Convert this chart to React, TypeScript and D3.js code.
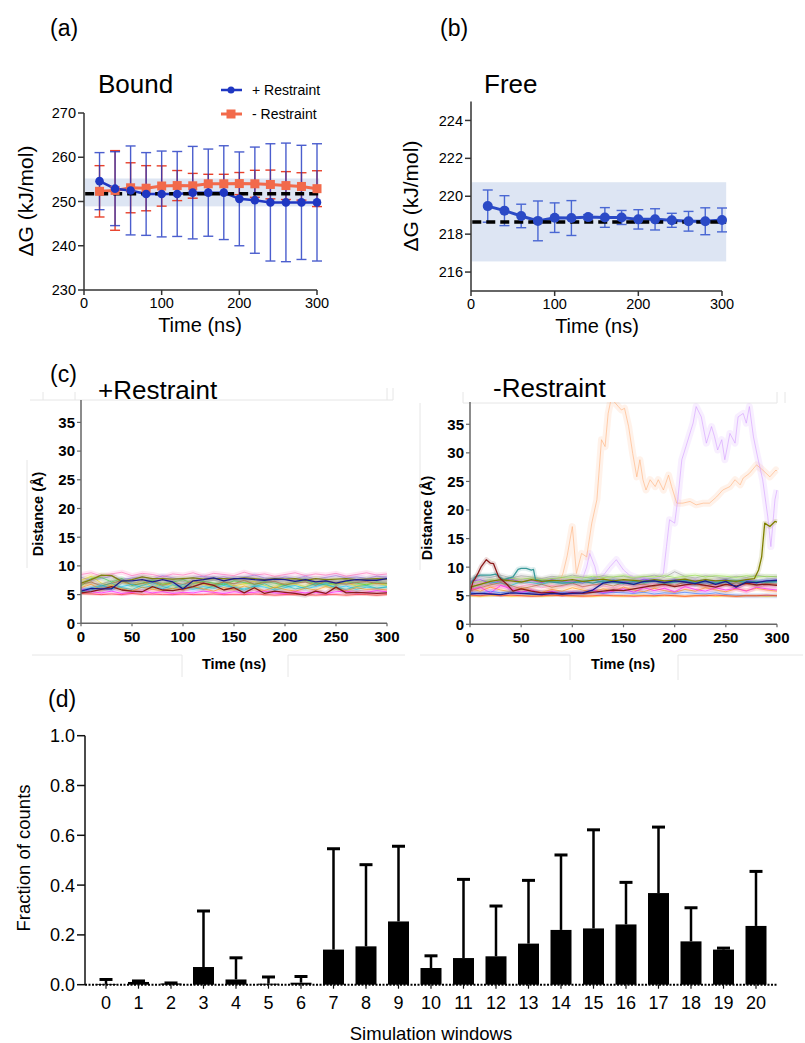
import React from 'react';
import * as d3 from 'd3';

const FONT = "'Liberation Sans', Arial, Helvetica, sans-serif";

// ---------- (a) / (b) data ----------
const timeNs = [20, 40, 60, 80, 100, 120, 140, 160, 180, 200, 220, 240, 260, 280, 300];
const boundPlusMean = [254.6, 252.9, 252.5, 251.7, 251.7, 251.7, 252.0, 252.0, 252.0, 250.6, 250.3, 249.8, 249.8, 249.8, 249.8];
const boundPlusErr = [6.45, 8.35, 10.05, 9.35, 9.7, 9.6, 10.45, 9.85, 10.6, 10.6, 12.0, 13.25, 13.4, 12.9, 13.25];
const boundMinusMean = [252.3, 252.5, 253.1, 253.0, 253.5, 253.6, 253.55, 254.0, 254.0, 254.05, 254.0, 253.85, 253.6, 253.4, 252.9];
const boundMinusErr = [5.8, 9.0, 5.65, 5.1, 4.55, 3.4, 2.8, 2.15, 2.15, 2.5, 3.05, 3.25, 3.15, 3.1, 4.05];
const boundRef = 251.75;
const boundBand = [248.9, 255.2];
const boundYTicks = [230, 240, 250, 260, 270];
const timeTicksAB = [0, 100, 200, 300];

const freeMean = [219.48, 219.24, 218.96, 218.7, 218.87, 218.85, 218.9, 218.88, 218.88, 218.78, 218.78, 218.73, 218.68, 218.68, 218.75];
const freeErr = [0.85, 0.79, 0.62, 1.05, 0.78, 0.92, 0.13, 0.52, 0.37, 0.51, 0.56, 0.37, 0.52, 0.71, 0.63];
const freeRef = 218.64;
const freeBand = [216.56, 220.74];
const freeYTicks = [216, 218, 220, 222, 224];

// ---------- (c) data ----------
const traceTimes = [0, 10, 20, 30, 40, 50, 60, 70, 80, 90, 100, 110, 120, 130, 140, 150, 160, 170, 180, 190, 200, 210, 220, 230, 240, 250, 260, 270, 280, 290, 300];
const distYTicks = [0, 5, 10, 15, 20, 25, 30, 35];
const distXTicks = [0, 50, 100, 150, 200, 250, 300];

// +Restraint traces
const plusNavy = [5.6, 6.1, 6.0, 6.0, 7.4, 7.4, 7.6, 7.2, 7.6, 7.2, 6.0, 7.4, 7.6, 7.9, 7.4, 7.8, 7.8, 7.6, 7.5, 7.7, 7.6, 7.3, 7.6, 7.2, 7.4, 7.0, 7.4, 7.6, 7.5, 7.5, 7.8];
const plusDarkRed = [5.3, 5.5, 5.9, 6.4, 5.8, 5.6, 5.5, 6.4, 5.8, 5.7, 6.0, 6.4, 7.0, 6.6, 5.8, 6.2, 5.3, 6.2, 5.2, 5.6, 5.4, 5.2, 4.9, 5.6, 5.2, 6.3, 5.3, 5.4, 5.3, 5.2, 5.3];
const plusOlive = [7.0, 7.6, 8.4, 8.3, 7.3, 7.6, 8.1, 7.8, 7.8, 7.7, 7.8, 7.9, 7.7, 7.8, 7.8, 7.7, 7.9, 7.8, 7.6, 7.8, 7.7, 7.8, 7.5, 7.8, 7.6, 7.7, 7.8, 7.6, 7.7, 7.8, 7.7];
const plusRed = [5.2, 5.1, 5.0, 5.1, 5.0, 5.2, 5.0, 5.1, 5.0, 5.0, 5.1, 5.0, 5.0, 5.1, 5.0, 5.0, 5.0, 5.1, 5.0, 4.9, 5.0, 5.0, 5.0, 4.9, 5.0, 5.0, 4.9, 5.0, 5.0, 4.9, 5.0];
const plusMagenta = [6.0, 5.5, 5.3, 5.6, 5.2, 5.4, 5.6, 5.3, 5.5, 5.2, 5.4, 5.3, 5.6, 5.4, 5.2, 5.5, 5.3, 5.4, 5.6, 5.3, 5.2, 5.5, 5.3, 5.4, 5.2, 5.5, 5.6, 5.3, 5.4, 5.7, 5.5];
const plusYellow = [7.5, 8.2, 7.0, 6.5, 7.2, 6.8, 7.5, 6.2, 7.0, 6.6, 6.3, 7.1, 6.8, 6.4, 7.2, 6.5, 6.9, 7.3, 6.6, 6.2, 7.0, 6.8, 6.4, 7.2, 6.6, 6.9, 7.1, 6.5, 6.8, 7.0, 6.6];
const plusGreen = [6.5, 7.8, 8.0, 7.2, 7.8, 6.6, 7.0, 7.5, 6.8, 7.2, 7.6, 6.9, 7.3, 7.0, 6.7, 7.4, 7.1, 6.8, 7.3, 7.0, 6.6, 7.2, 7.5, 6.9, 7.1, 6.8, 7.3, 7.0, 6.7, 7.2, 6.9];
const plusSky = [5.8, 6.2, 6.6, 6.0, 6.4, 6.8, 6.2, 6.5, 6.0, 6.7, 6.3, 5.9, 6.4, 6.1, 6.6, 6.2, 6.0, 6.5, 6.3, 5.8, 6.2, 6.6, 6.0, 6.4, 6.9, 6.2, 6.5, 5.9, 6.3, 6.1, 6.4];
const plusOrange = [6.2, 6.8, 5.8, 6.4, 6.0, 5.6, 6.3, 5.9, 5.7, 6.1, 5.8, 6.4, 6.0, 5.6, 6.2, 5.8, 6.5, 6.0, 5.7, 6.3, 5.9, 5.6, 6.1, 5.8, 6.4, 6.0, 5.7, 6.2, 5.9, 6.0, 5.8];
const plusPurple = [8.0, 7.5, 7.8, 8.2, 7.6, 7.9, 8.1, 7.7, 8.3, 7.9, 7.6, 8.0, 8.2, 7.8, 8.1, 7.7, 8.0, 8.4, 7.9, 7.6, 8.1, 7.8, 8.2, 7.7, 8.0, 8.3, 7.9, 8.1, 7.8, 8.2, 8.0];
const plusTeal = [5.5, 5.8, 6.5, 7.0, 6.2, 5.9, 6.6, 7.1, 6.4, 6.0, 6.8, 6.3, 5.9, 6.5, 7.0, 6.2, 5.8, 6.4, 6.9, 6.1, 6.6, 6.0, 6.3, 6.9, 6.7, 6.2, 5.9, 6.4, 6.6, 6.1, 6.3];
const plusPink = [8.5, 8.8, 8.2, 8.6, 8.9, 8.3, 8.7, 8.5, 8.1, 8.6, 8.4, 8.8, 8.2, 8.7, 8.5, 8.3, 8.9, 8.4, 8.6, 8.2, 8.5, 8.8, 8.3, 8.6, 8.4, 8.7, 8.2, 8.5, 8.8, 8.4, 8.6];
const plusGray = [7.2, 7.0, 6.8, 7.5, 7.1, 6.9, 7.4, 7.2, 7.0, 7.6, 7.3, 6.9, 7.1, 7.5, 7.2, 6.8, 7.3, 7.0, 7.4, 7.1, 6.9, 7.3, 7.6, 7.0, 7.2, 7.4, 6.9, 7.1, 7.3, 7.0, 7.2];
const plusBrown = [6.8, 7.2, 6.5, 7.0, 7.4, 6.7, 6.9, 7.3, 6.6, 7.1, 6.8, 7.4, 7.0, 6.7, 7.2, 6.9, 7.5, 6.8, 7.1, 7.3, 6.7, 7.0, 7.2, 6.6, 7.4, 7.0, 6.8, 7.1, 7.3, 6.9, 7.0];

// -Restraint traces (faint band)
const minusRed = [5.1, 5.0, 5.2, 5.0, 5.1, 5.0, 4.9, 5.0, 5.1, 5.0, 5.0, 4.9, 5.0, 5.1, 5.0, 5.0, 4.9, 5.0, 5.0, 5.1, 5.0, 4.9, 5.0, 5.0, 5.1, 5.0, 4.9, 5.0, 5.0, 5.1, 5.0];
const minusYellow = [5.0, 4.9, 5.0, 5.1, 4.9, 5.0, 5.0, 4.9, 5.0, 5.1, 4.9, 5.0, 4.9, 5.0, 5.0, 4.9, 5.1, 5.0, 4.9, 5.0, 5.0, 4.9, 5.0, 5.1, 4.9, 5.0, 4.9, 5.0, 5.0, 4.9, 5.0];
const minusMagenta = [6.0, 6.5, 5.5, 6.8, 6.2, 5.6, 6.0, 5.4, 5.8, 5.3, 5.6, 5.4, 6.0, 5.5, 5.8, 6.2, 5.6, 6.4, 5.9, 6.3, 5.7, 6.6, 6.1, 5.8, 6.4, 6.0, 6.3, 5.8, 6.5, 6.2, 6.0];
const minusBlue = [5.6, 5.4, 5.8, 5.5, 5.7, 5.4, 5.6, 5.5, 5.3, 5.6, 5.4, 5.5, 5.7, 5.4, 5.6, 5.5, 5.4, 5.6, 5.3, 5.5, 5.4, 5.6, 5.4, 5.3, 5.5, 5.2, 5.1, 5.0, 5.0, 5.0, 5.0];
const minusLime = [7.2, 7.5, 7.8, 7.6, 8.0, 7.9, 8.1, 7.8, 8.0, 8.2, 8.3, 8.1, 8.4, 8.2, 8.3, 8.5, 8.2, 8.4, 8.3, 8.5, 8.2, 8.4, 8.6, 8.3, 8.5, 8.4, 8.2, 8.5, 8.3, 8.4, 8.3];
const minusCyan = [6.5, 7.0, 7.4, 7.2, 6.8, 7.5, 7.3, 7.0, 7.6, 7.4, 7.2, 7.5, 7.8, 7.3, 7.6, 7.4, 7.1, 7.5, 7.7, 7.2, 7.6, 7.4, 7.0, 7.5, 7.3, 7.7, 7.4, 7.6, 7.2, 7.5, 7.4];
const minusOrange = [6.2, 5.8, 6.5, 6.0, 5.7, 6.3, 5.9, 5.6, 6.1, 5.8, 6.4, 6.0, 5.7, 6.2, 5.8, 6.5, 6.0, 5.7, 6.3, 5.9, 5.6, 6.1, 5.8, 6.4, 6.0, 5.7, 6.2, 5.9, 6.3, 6.0, 5.8];
const minusPink = [6.8, 7.2, 6.5, 6.9, 6.3, 6.7, 7.0, 6.4, 6.8, 6.6, 7.1, 6.5, 6.9, 6.7, 6.4, 7.0, 6.6, 6.8, 7.2, 6.5, 6.9, 6.7, 7.1, 6.6, 6.8, 7.0, 6.5, 6.9, 7.3, 6.7, 7.0];
const minusGray = [8.0, 8.4, 8.2, 8.6, 8.1, 8.5, 8.3, 8.0, 8.4, 8.2, 8.6, 8.3, 8.1, 8.5, 8.2, 8.4, 8.0, 8.3, 8.6, 8.2, 9.2, 8.4, 8.1, 8.5, 8.3, 8.0, 8.4, 8.2, 8.6, 8.3, 8.4];
const minusBrown = [5.8, 6.4, 6.9, 7.3, 6.8, 6.2, 6.6, 7.0, 6.5, 6.8, 7.2, 6.6, 6.9, 7.1, 6.7, 7.3, 6.9, 7.0, 6.6, 7.2, 6.8, 7.4, 7.0, 6.7, 7.1, 6.9, 7.3, 7.0, 6.8, 7.2, 7.0];
const minusViolet = [7.5, 7.8, 7.2, 7.6, 7.9, 7.4, 7.7, 7.3, 7.8, 7.5, 7.6, 7.2, 7.8, 7.4, 7.7, 7.5, 7.3, 7.9, 7.6, 7.4, 7.8, 7.5, 7.7, 7.3, 7.6, 7.8, 7.4, 7.7, 7.5, 7.6, 7.8];
const minusNavy = [5.3, 5.4, 5.3, 5.2, 5.5, 5.4, 5.3, 5.2, 5.4, 5.3, 5.4, 5.5, 6.0, 7.2, 7.5, 7.3, 7.0, 7.5, 7.6, 7.3, 7.6, 7.4, 7.1, 7.6, 7.0, 7.5, 6.5, 7.4, 7.3, 7.6, 7.7];

// -Restraint prominent traces, [time ns, distance Å]
const minusDarkRedPts: [number, number][] = [[0, 5.5], [3, 7.5], [5, 8.0], [8, 9.0], [11, 10.1], [16, 11.3], [20, 10.7], [23, 10.6], [28, 8.3], [31, 7.8], [36, 7.0], [42, 5.8], [50, 6.2], [60, 5.8], [70, 5.5], [80, 5.6], [90, 5.3], [100, 5.5], [110, 5.4], [120, 5.6], [130, 5.8], [140, 6.0], [150, 5.9], [160, 6.2], [170, 6.5], [180, 6.8], [190, 7.0], [200, 6.6], [210, 6.9], [220, 7.1], [230, 6.8], [240, 6.5], [250, 7.0], [260, 6.7], [270, 7.2], [280, 6.9], [290, 7.0], [300, 6.8]];
const minusTealPts: [number, number][] = [[0, 7.0], [5, 8.3], [10, 8.6], [20, 8.6], [25, 8.8], [33, 7.8], [42, 8.3], [47, 9.6], [50, 9.8], [55, 9.8], [60, 9.5], [62, 9.6], [64, 7.8], [70, 7.6], [80, 7.4], [90, 7.2], [100, 7.3], [110, 7.5], [120, 7.2], [130, 7.6], [140, 7.4], [150, 7.1], [160, 7.5], [170, 7.3], [180, 7.6], [190, 7.2], [200, 7.4], [210, 7.7], [220, 7.3], [230, 7.5], [240, 7.2], [250, 7.4], [260, 7.6], [270, 7.3], [280, 7.5], [290, 7.4], [300, 7.5]];
const minusOlivePts: [number, number][] = [[0, 6.5], [10, 7.0], [20, 7.5], [30, 7.8], [40, 7.6], [50, 7.4], [60, 7.8], [70, 7.5], [80, 7.7], [90, 7.6], [100, 7.8], [110, 7.5], [120, 7.7], [130, 7.9], [140, 7.6], [150, 7.8], [160, 7.7], [170, 7.5], [180, 7.8], [190, 7.6], [200, 7.7], [210, 7.9], [220, 7.5], [230, 7.8], [240, 7.6], [250, 7.7], [260, 7.5], [270, 7.8], [278, 8.0], [282, 9.5], [285, 11.8], [288, 17.7], [293, 17.1], [298, 18.0], [300, 17.9]];
const minusPeachPts: [number, number][] = [[0, 6.5], [10, 7.2], [20, 7.5], [30, 7.0], [40, 7.4], [50, 7.8], [60, 7.3], [70, 7.6], [80, 7.2], [88, 7.6], [91, 9.0], [95, 12.0], [100, 17.1], [104, 8.9], [109, 12.4], [114, 11.8], [119, 17.7], [124, 21.8], [128.5, 32.3], [132, 31.1], [135, 36.9], [138, 39.5], [145, 38.1], [148, 37.5], [151, 37.8], [155, 34.6], [159, 29.9], [163, 25.8], [166, 28.8], [169, 25.3], [172, 23.5], [176, 25.3], [181, 24.1], [184, 25.3], [189, 23.5], [194, 26.1], [197, 24.1], [202, 21.2], [208, 21.2], [215, 21.5], [221, 20.9], [228, 21.2], [234, 21.2], [241, 22.3], [247, 23.5], [254, 24.1], [259, 25.3], [264, 24.4], [267, 25.6], [273, 26.4], [280, 27.9], [286, 27.0], [293, 25.8], [299, 27.0], [300, 26.8]];
const minusLilacPts: [number, number][] = [[0, 7.0], [10, 7.4], [20, 7.8], [30, 7.2], [40, 7.4], [50, 7.9], [60, 7.5], [70, 7.6], [80, 7.8], [90, 7.4], [100, 7.8], [110, 8.0], [114, 10.0], [117, 12.4], [122, 10.1], [125, 7.8], [130, 8.5], [137, 10.1], [143, 11.3], [150, 9.5], [156, 8.6], [165, 8.0], [175, 7.8], [185, 8.2], [189, 8.9], [192, 13.6], [195, 18.3], [200, 17.7], [203, 21.8], [207, 28.8], [211, 31.1], [218, 35.2], [221, 38.1], [226, 36.3], [231, 31.7], [236, 34.6], [239, 32.8], [242, 30.5], [246, 32.3], [249, 28.8], [254, 33.4], [259, 31.7], [262, 36.3], [267, 36.9], [270, 35.2], [273, 38.1], [277, 32.8], [281, 29.3], [286, 25.3], [291, 18.8], [294, 13.6], [298, 21.8], [300, 23.5]];

// ---------- (d) data ----------
const windows = ['0', '1', '2', '3', '4', '5', '6', '7', '8', '9', '10', '11', '12', '13', '14', '15', '16', '17', '18', '19', '20'];
const fraction = [0.003, 0.011, 0.005, 0.071, 0.021, 0.004, 0.008, 0.141, 0.154, 0.254, 0.067, 0.107, 0.114, 0.165, 0.220, 0.226, 0.242, 0.368, 0.174, 0.141, 0.236];
const fractionErr = [0.018, 0.004, 0.002, 0.225, 0.087, 0.027, 0.025, 0.405, 0.328, 0.302, 0.049, 0.316, 0.202, 0.254, 0.301, 0.396, 0.169, 0.265, 0.135, 0.006, 0.219];
const fractionTicks = [0, 0.2, 0.4, 0.6, 0.8, 1.0];

type Trace = { pts: [number, number][]; color: string; strong?: boolean; halo?: number };

const fromValues = (vals: number[]): [number, number][] => vals.map((v, i) => [traceTimes[i], v]);

function ErrBar({ x, yTop, yBot, cap, color, w, opacity = 1 }: any) {
  return (
    <g stroke={color} strokeWidth={w} opacity={opacity}>
      <line x1={x} x2={x} y1={yTop} y2={yBot} />
      <line x1={x - cap / 2} x2={x + cap / 2} y1={yTop} y2={yTop} />
      <line x1={x - cap / 2} x2={x + cap / 2} y1={yBot} y2={yBot} />
    </g>
  );
}

function PanelA() {
  const x = d3.scaleLinear().domain([0, 300]).range([84, 317]);
  const y = d3.scaleLinear().domain([230, 270]).range([290, 113]);
  const line = d3.line<number>().x((_, i) => x(timeNs[i])).y((d) => y(d));
  const blue = '#1f37c2';
  const red = '#f26a4b';
  return (
    <g fontFamily={FONT}>
      <text x={50} y={36} fontSize={23}>(a)</text>
      <text x={98} y={93} fontSize={26}>Bound</text>
      <rect x={x(1)} y={y(boundBand[1])} width={x(303) - x(1)} height={y(boundBand[0]) - y(boundBand[1])} fill="#dde5f3" />
      {timeNs.map((t, i) => (
        <ErrBar key={'re' + i} x={x(t)} yTop={y(boundMinusMean[i] + boundMinusErr[i])} yBot={y(boundMinusMean[i] - boundMinusErr[i])} cap={10} color="#e8402a" w={1.4} />
      ))}
      <path d={line(boundMinusMean) || ''} fill="none" stroke={red} strokeWidth={3} />
      {timeNs.map((t, i) => (
        <ErrBar key={'be' + i} x={x(t)} yTop={y(boundPlusMean[i] + boundPlusErr[i])} yBot={y(boundPlusMean[i] - boundPlusErr[i])} cap={10} color={blue} w={1.4} opacity={0.8} />
      ))}
      <path d={line(boundPlusMean) || ''} fill="none" stroke={blue} strokeWidth={2.5} />
      <line x1={x(1.5)} x2={x(303)} y1={y(boundRef)} y2={y(boundRef)} stroke="#000" strokeWidth={3.5} strokeDasharray="9,5" />
      {timeNs.map((t, i) => (
        <rect key={'rs' + i} x={x(t) - 4.5} y={y(boundMinusMean[i]) - 4.5} width={9} height={9} fill={red} />
      ))}
      {timeNs.map((t, i) => (
        <circle key={'bc' + i} cx={x(t)} cy={y(boundPlusMean[i])} r={4.3} fill={blue} />
      ))}
      <line x1={84} x2={84} y1={113} y2={290} stroke="#333" strokeWidth={1.5} />
      <line x1={84} x2={317} y1={290} y2={290} stroke="#333" strokeWidth={1.5} />
      {boundYTicks.map((v) => (
        <g key={v}>
          <line x1={78} x2={84} y1={y(v)} y2={y(v)} stroke="#333" strokeWidth={1.5} />
          <text x={76} y={y(v)} dy="0.35em" textAnchor="end" fontSize={14.5}>{v}</text>
        </g>
      ))}
      {timeTicksAB.map((v) => (
        <g key={v}>
          <line x1={x(v)} x2={x(v)} y1={290} y2={295} stroke="#333" strokeWidth={1.5} />
          <text x={x(v)} y={308} textAnchor="middle" fontSize={14.5}>{v}</text>
        </g>
      ))}
      <text transform="translate(33,201) rotate(-90)" textAnchor="middle" fontSize={21}>ΔG (kJ/mol)</text>
      <text x={200} y={332} textAnchor="middle" fontSize={20}>Time (ns)</text>
      <line x1={221} x2={242} y1={90} y2={90} stroke={blue} strokeWidth={2.5} />
      <circle cx={231} cy={90} r={3.5} fill={blue} />
      <text x={252} y={90} dy="0.35em" fontSize={14}>+ Restraint</text>
      <line x1={221} x2={242} y1={114} y2={114} stroke={red} strokeWidth={3} />
      <rect x={226.5} y={109.5} width={9} height={9} fill={red} />
      <text x={252} y={114} dy="0.35em" fontSize={14}>- Restraint</text>
    </g>
  );
}

function PanelB() {
  const x = d3.scaleLinear().domain([0, 300]).range([471, 722]);
  const y = d3.scaleLinear().domain([215, 225]).range([291, 101.5]);
  const line = d3.line<number>().x((_, i) => x(timeNs[i])).y((d) => y(d));
  const blue = '#2b4ac6';
  return (
    <g fontFamily={FONT}>
      <text x={440} y={36} fontSize={23}>(b)</text>
      <text x={484} y={93} fontSize={26}>Free</text>
      <rect x={x(1)} y={y(freeBand[1])} width={x(305) - x(1)} height={y(freeBand[0]) - y(freeBand[1])} fill="#dde5f3" />
      {timeNs.map((t, i) => (
        <ErrBar key={'fe' + i} x={x(t)} yTop={y(freeMean[i] + freeErr[i])} yBot={y(freeMean[i] - freeErr[i])} cap={10} color="#3a5ad0" w={1.4} opacity={0.9} />
      ))}
      <path d={line(freeMean) || ''} fill="none" stroke={blue} strokeWidth={3} />
      <line x1={x(1.5)} x2={x(305)} y1={y(freeRef)} y2={y(freeRef)} stroke="#000" strokeWidth={3.5} strokeDasharray="9,5" />
      {timeNs.map((t, i) => (
        <circle key={'fc' + i} cx={x(t)} cy={y(freeMean[i])} r={5} fill={blue} />
      ))}
      <line x1={471} x2={471} y1={101.5} y2={291} stroke="#333" strokeWidth={1.5} />
      <line x1={471} x2={722} y1={291} y2={291} stroke="#333" strokeWidth={1.5} />
      {freeYTicks.map((v) => (
        <g key={v}>
          <line x1={465} x2={471} y1={y(v)} y2={y(v)} stroke="#333" strokeWidth={1.5} />
          <text x={463} y={y(v)} dy="0.35em" textAnchor="end" fontSize={14.5}>{v}</text>
        </g>
      ))}
      {timeTicksAB.map((v) => (
        <g key={v}>
          <line x1={x(v)} x2={x(v)} y1={291} y2={296} stroke="#333" strokeWidth={1.5} />
          <text x={x(v)} y={309} textAnchor="middle" fontSize={14.5}>{v}</text>
        </g>
      ))}
      <text transform="translate(418,196) rotate(-90)" textAnchor="middle" fontSize={21}>ΔG (kJ/mol)</text>
      <text x={597} y={333} textAnchor="middle" fontSize={20}>Time (ns)</text>
    </g>
  );
}

function PanelC({ id, x0, x1, yBottom, yTopPx, traces, title, titleX, titleY, yLabelX, yLabelY, xLabelX }: any) {
  const x = d3.scaleLinear().domain([0, 300]).range([x0, x1]);
  const y = d3.scaleLinear().domain([0, 38.9]).range([yBottom, yTopPx]);
  const line = d3.line<[number, number]>().x((d) => x(d[0])).y((d) => y(d[1]));
  return (
    <g fontFamily={FONT}>
      <defs>
        <clipPath id={id}>
          <rect x={x0} y={yTopPx} width={x1 - x0 + 2} height={yBottom - yTopPx} />
        </clipPath>
      </defs>
      <text x={titleX} y={titleY} fontSize={26}>{title}</text>
      <g clipPath={`url(#${id})`} fill="none" strokeLinejoin="round">
        {traces.map((t: Trace, i: number) => (
          <path key={'h' + i} d={line(t.pts) || ''} stroke={t.color} strokeWidth={t.halo || 5} opacity={0.16} />
        ))}
        {traces.filter((t: Trace) => !t.strong).map((t: Trace, i: number) => (
          <path key={'f' + i} d={line(t.pts) || ''} stroke={t.color} strokeWidth={1} opacity={0.6} />
        ))}
        {traces.filter((t: Trace) => t.strong).map((t: Trace, i: number) => (
          <path key={'s' + i} d={line(t.pts) || ''} stroke={t.color} strokeWidth={1.3} />
        ))}
      </g>
      <line x1={x0} x2={x0} y1={yTopPx} y2={yBottom} stroke="#666" strokeWidth={1.5} />
      <line x1={x0} x2={x1} y1={yBottom} y2={yBottom} stroke="#666" strokeWidth={1.5} />
      {distYTicks.map((v) => (
        <g key={v}>
          <line x1={x0 - 4} x2={x0} y1={y(v)} y2={y(v)} stroke="#666" strokeWidth={1.2} />
          <text x={x0 - 6} y={y(v)} dy="0.36em" textAnchor="end" fontSize={15} fontWeight="bold">{v}</text>
        </g>
      ))}
      {distXTicks.map((v) => (
        <g key={v}>
          <line x1={x(v)} x2={x(v)} y1={yBottom} y2={yBottom + 3} stroke="#666" strokeWidth={1.2} />
          <text x={x(v)} y={yBottom + 19} textAnchor="middle" fontSize={15} fontWeight="bold">{v}</text>
        </g>
      ))}
      <text transform={`translate(${yLabelX},${yLabelY}) rotate(-90)`} textAnchor="middle" fontSize={14.5} fontWeight="bold">Distance (Å)</text>
      <text x={xLabelX} y={669} textAnchor="middle" fontSize={14.5} fontWeight="bold">Time (ns)</text>
    </g>
  );
}

function Artifacts() {
  const segs = [
    [27, 460, 27, 568], [30, 400, 393, 400], [43, 392, 43, 400], [75, 392, 75, 400], [387, 388, 387, 400], [393, 388, 393, 400],
    [32, 655, 182, 655], [182, 655, 182, 677], [288, 655, 288, 677], [288, 655, 405, 655],
    [463, 403, 777, 403], [463, 392, 463, 403], [777, 392, 777, 403], [785, 392, 785, 403], [420, 403, 420, 570],
    [420, 655, 570, 655], [570, 655, 570, 680], [678, 655, 678, 680], [678, 655, 803, 655],
  ];
  return (
    <g stroke="#e6e6e6" strokeWidth={1}>
      {segs.map((s, i) => <line key={i} x1={s[0]} y1={s[1]} x2={s[2]} y2={s[3]} />)}
    </g>
  );
}

function PanelD() {
  const x = d3.scalePoint<string>().domain(windows).range([106, 756]);
  const y = d3.scaleLinear().domain([0, 1]).range([984.7, 735.7]);
  const bw = 21;
  return (
    <g fontFamily={FONT}>
      <text x={48} y={707} fontSize={23}>(d)</text>
      {windows.map((w, i) => (
        <g key={w}>
          <line x1={x(w)!} x2={x(w)!} y1={y(fraction[i])} y2={y(fraction[i] + fractionErr[i])} stroke="#000" strokeWidth={2.5} />
          <line x1={x(w)! - 6.5} x2={x(w)! + 6.5} y1={y(fraction[i] + fractionErr[i])} y2={y(fraction[i] + fractionErr[i])} stroke="#000" strokeWidth={3} />
          <rect x={x(w)! - bw / 2} y={y(fraction[i])} width={bw} height={y(0) - y(fraction[i])} fill="#000" />
        </g>
      ))}
      <line x1={85} x2={778} y1={y(0)} y2={y(0)} stroke="#000" strokeWidth={2} strokeDasharray="2,1.5" />
      <line x1={85} x2={85} y1={735.7} y2={y(0)} stroke="#111" strokeWidth={1.5} />
      {fractionTicks.map((v) => (
        <g key={v}>
          <line x1={77} x2={85} y1={y(v)} y2={y(v)} stroke="#111" strokeWidth={1.5} />
          <text x={75} y={y(v)} dy="0.36em" textAnchor="end" fontSize={18}>{v.toFixed(1)}</text>
        </g>
      ))}
      {windows.map((w) => (
        <g key={'t' + w}>
          <line x1={x(w)!} x2={x(w)!} y1={y(0)} y2={y(0) + 4} stroke="#111" strokeWidth={1.2} />
          <text x={x(w)!} y={1009} textAnchor="middle" fontSize={18}>{w}</text>
        </g>
      ))}
      <text transform="translate(30,858) rotate(-90)" textAnchor="middle" fontSize={18.5}>Fraction of counts</text>
      <text x={431} y={1040} textAnchor="middle" fontSize={18.5}>Simulation windows</text>
    </g>
  );
}

export default function App() {
  const plusTraces: Trace[] = [
    { pts: fromValues(plusPink), color: '#ff69b4' },
    { pts: fromValues(plusPurple), color: '#9370db' },
    { pts: fromValues(plusYellow), color: '#e8d000' },
    { pts: fromValues(plusGreen), color: '#32cd32' },
    { pts: fromValues(plusGray), color: '#a0a0a0' },
    { pts: fromValues(plusBrown), color: '#b0602d' },
    { pts: fromValues(plusSky), color: '#00bfff' },
    { pts: fromValues(plusTeal), color: '#20b2aa' },
    { pts: fromValues(plusOrange), color: '#ff8c00' },
    { pts: fromValues(plusMagenta), color: '#ff00ff' },
    { pts: fromValues(plusRed), color: '#ff2020', halo: 3 },
    { pts: fromValues(plusOlive), color: '#808010', strong: true },
    { pts: fromValues(plusDarkRed), color: '#8b1a1a', strong: true },
    { pts: fromValues(plusNavy), color: '#1c1c8f', strong: true },
  ];
  const minusTraces: Trace[] = [
    { pts: minusPeachPts, color: '#ffb07a', halo: 7 },
    { pts: minusLilacPts, color: '#d49cff', halo: 7 },
    { pts: fromValues(minusGray), color: '#999999' },
    { pts: fromValues(minusLime), color: '#90e040' },
    { pts: fromValues(minusViolet), color: '#8a2be2' },
    { pts: fromValues(minusCyan), color: '#00c8d8' },
    { pts: fromValues(minusPink), color: '#ff80c0' },
    { pts: fromValues(minusBrown), color: '#b0602d' },
    { pts: fromValues(minusOrange), color: '#ff8c00' },
    { pts: fromValues(minusMagenta), color: '#ff00ff' },
    { pts: fromValues(minusBlue), color: '#3070ff' },
    { pts: fromValues(minusYellow), color: '#ffd000', halo: 3 },
    { pts: fromValues(minusRed), color: '#ff2020', halo: 3 },
    { pts: minusTealPts, color: '#3a9a9a', strong: true },
    { pts: minusOlivePts, color: '#808000', strong: true },
    { pts: minusDarkRedPts, color: '#8b1a1a', strong: true },
    { pts: fromValues(minusNavy), color: '#1c1c8f', strong: true },
  ];
  return (
    <div style={{ position: 'absolute', left: 0, top: 0 }}>
      <svg width={805} height={1043} style={{ display: 'block', background: '#fff' }}>
        <rect width={805} height={1043} fill="#fff" />
        <PanelA />
        <PanelB />
        <Artifacts />
        <text x={50} y={382} fontSize={23} fontFamily={FONT}>(c)</text>
        <PanelC id="clipPlus" x0={81} x1={387} yBottom={623.3} yTopPx={400} traces={plusTraces} title="+Restraint" titleX={98} titleY={399} yLabelX={43} yLabelY={514} xLabelX={234} />
        <PanelC id="clipMinus" x0={470} x1={777} yBottom={624.3} yTopPx={402} traces={minusTraces} title="-Restraint" titleX={493} titleY={397} yLabelX={432} yLabelY={518} xLabelX={623} />
        <PanelD />
      </svg>
    </div>
  );
}
